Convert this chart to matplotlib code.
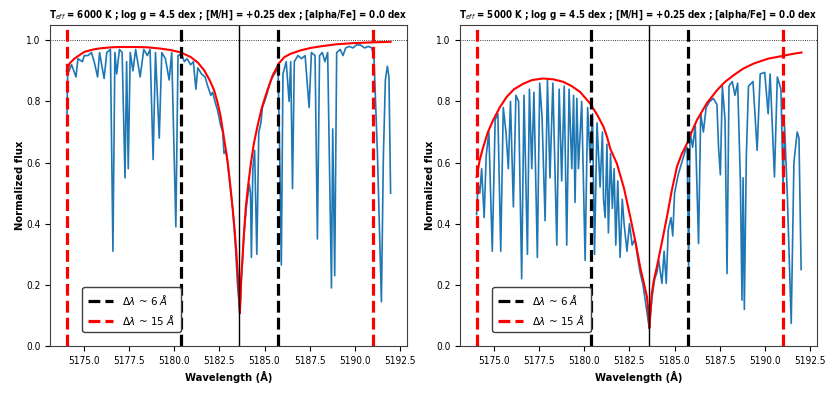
import matplotlib
matplotlib.use("Agg")
import matplotlib.pyplot as plt

# ---------------- data ----------------
titles = [r"T$_{eff}$ = 6000 K ; log g = 4.5 dex ; [M/H] = +0.25 dex ; [alpha/Fe] = 0.0 dex",
          r"T$_{eff}$ = 5000 K ; log g = 4.5 dex ; [M/H] = +0.25 dex ; [alpha/Fe] = 0.0 dex"]

# Teff = 6000 K spectrum (blue)
wl_6000 = [5174.03, 5174.08, 5174.30, 5174.54, 5174.65, 5174.90, 5175.00, 5175.20, 5175.40, 5175.55,
           5175.74, 5175.85, 5176.10, 5176.25, 5176.45, 5176.59, 5176.70, 5176.80, 5176.95, 5177.10,
           5177.26, 5177.35, 5177.44, 5177.55, 5177.70, 5177.85, 5178.10, 5178.30, 5178.50, 5178.65,
           5178.82, 5178.95, 5179.16, 5179.30, 5179.50, 5179.71, 5179.85, 5180.08, 5180.20, 5180.40,
           5180.55, 5180.70, 5180.90, 5181.05, 5181.19, 5181.30, 5181.50, 5181.70, 5181.85, 5182.02,
           5182.12, 5182.25, 5182.40, 5182.57, 5182.68, 5182.75, 5182.85, 5182.95, 5183.10, 5183.25,
           5183.40, 5183.50, 5183.63, 5183.72, 5183.85, 5184.00, 5184.15, 5184.22, 5184.27, 5184.35,
           5184.45, 5184.57, 5184.68, 5184.80, 5184.88, 5185.00, 5185.16, 5185.35, 5185.55, 5185.75,
           5185.85, 5185.93, 5186.02, 5186.20, 5186.36, 5186.45, 5186.55, 5186.65, 5186.85, 5187.05,
           5187.25, 5187.47, 5187.60, 5187.80, 5187.93, 5188.05, 5188.20, 5188.35, 5188.50, 5188.71,
           5188.78, 5188.89, 5189.00, 5189.20, 5189.35, 5189.50, 5189.70, 5189.90, 5190.10, 5190.30,
           5190.55, 5190.75, 5190.95, 5191.07, 5191.26, 5191.48, 5191.59, 5191.70, 5191.81, 5191.90,
           5191.99]
fx_6000 = [0.72, 0.89, 0.92, 0.88, 0.94, 0.93, 0.95, 0.95, 0.96, 0.93,
           0.88, 0.96, 0.875, 0.96, 0.97, 0.31, 0.96, 0.89, 0.97, 0.96,
           0.55, 0.93, 0.58, 0.96, 0.90, 0.97, 0.88, 0.97, 0.95, 0.97,
           0.61, 0.96, 0.68, 0.96, 0.94, 0.87, 0.96, 0.39, 0.95, 0.955,
           0.93, 0.94, 0.92, 0.93, 0.84, 0.91, 0.89, 0.88, 0.85, 0.82,
           0.83, 0.80, 0.77, 0.72, 0.70, 0.63, 0.64, 0.60, 0.52, 0.44,
           0.31, 0.20, 0.11, 0.22, 0.36, 0.46, 0.53, 0.50, 0.29, 0.58,
           0.64, 0.30, 0.70, 0.73, 0.78, 0.80, 0.83, 0.87, 0.89, 0.91,
           0.59, 0.265, 0.89, 0.93, 0.80, 0.93, 0.515, 0.93, 0.95, 0.94,
           0.95, 0.78, 0.96, 0.95, 0.35, 0.95, 0.96, 0.93, 0.96, 0.19,
           0.71, 0.23, 0.96, 0.97, 0.95, 0.975, 0.98, 0.975, 0.985, 0.985,
           0.975, 0.98, 0.975, 0.94, 0.63, 0.145, 0.62, 0.87, 0.915, 0.88,
           0.50]

# Teff = 6000 K continuum fit (red)
wl_fit_6000 = [5174.03, 5174.20, 5174.45, 5174.75, 5175.00, 5175.50, 5175.93, 5176.50, 5177.00, 5177.77,
               5178.50, 5179.20, 5179.80, 5180.36, 5180.91, 5181.30, 5181.65, 5181.95, 5182.20, 5182.40,
               5182.57, 5182.75, 5182.94, 5183.08, 5183.22, 5183.34, 5183.44, 5183.53, 5183.60, 5183.63,
               5183.66, 5183.70, 5183.77, 5183.86, 5183.96, 5184.10, 5184.24, 5184.40, 5184.60, 5184.85,
               5185.16, 5185.45, 5185.80, 5186.10, 5186.45, 5187.00, 5187.56, 5188.20, 5189.00, 5190.00,
               5190.88, 5191.99]
fit_6000 = [0.90, 0.925, 0.94, 0.952, 0.962, 0.970, 0.974, 0.977, 0.978, 0.978,
            0.977, 0.973, 0.968, 0.960, 0.945, 0.927, 0.902, 0.87, 0.837, 0.795,
            0.749, 0.68, 0.608, 0.535, 0.455, 0.38, 0.303, 0.22, 0.14, 0.107,
            0.15, 0.22, 0.281, 0.37, 0.455, 0.53, 0.597, 0.66, 0.717, 0.78,
            0.837, 0.885, 0.925, 0.945, 0.956, 0.967, 0.975, 0.981, 0.987, 0.991,
            0.993, 0.995]

# Teff = 5000 K spectrum (blue)
wl_5000 = [5174.02, 5174.10, 5174.20, 5174.30, 5174.44, 5174.55, 5174.70, 5174.89, 5175.05, 5175.20,
           5175.36, 5175.50, 5175.65, 5175.78, 5175.90, 5176.06, 5176.20, 5176.35, 5176.52, 5176.65,
           5176.84, 5176.95, 5177.08, 5177.20, 5177.39, 5177.52, 5177.65, 5177.82, 5177.95, 5178.09,
           5178.25, 5178.47, 5178.60, 5178.74, 5178.88, 5179.02, 5179.15, 5179.30, 5179.40, 5179.48,
           5179.58, 5179.67, 5179.85, 5180.04, 5180.18, 5180.32, 5180.45, 5180.56, 5180.70, 5180.87,
           5181.00, 5181.06, 5181.15, 5181.25, 5181.33, 5181.45, 5181.55, 5181.65, 5181.74, 5181.85,
           5181.98, 5182.10, 5182.20, 5182.36, 5182.50, 5182.65, 5182.80, 5182.95, 5183.09, 5183.25,
           5183.40, 5183.60, 5183.75, 5183.90, 5184.02, 5184.12, 5184.30, 5184.42, 5184.54, 5184.65,
           5184.80, 5184.90, 5185.00, 5185.20, 5185.40, 5185.60, 5185.70, 5185.78, 5185.86, 5186.00,
           5186.15, 5186.33, 5186.45, 5186.60, 5186.75, 5186.95, 5187.15, 5187.35, 5187.44, 5187.54,
           5187.65, 5187.80, 5187.91, 5188.02, 5188.20, 5188.35, 5188.50, 5188.65, 5188.74, 5188.80,
           5188.87, 5188.98, 5189.10, 5189.35, 5189.58, 5189.75, 5190.00, 5190.19, 5190.30, 5190.54,
           5190.70, 5190.90, 5191.02, 5191.10, 5191.25, 5191.47, 5191.62, 5191.80, 5191.90, 5192.02]
fx_5000 = [0.43, 0.53, 0.50, 0.58, 0.42, 0.62, 0.70, 0.31, 0.74, 0.76,
           0.31, 0.78, 0.70, 0.58, 0.80, 0.455, 0.82, 0.80, 0.22, 0.82,
           0.30, 0.84, 0.58, 0.83, 0.29, 0.86, 0.75, 0.41, 0.87, 0.55,
           0.86, 0.33, 0.84, 0.54, 0.85, 0.33, 0.84, 0.58, 0.82, 0.47,
           0.81, 0.58, 0.80, 0.28, 0.78, 0.60, 0.76, 0.30, 0.73, 0.52,
           0.70, 0.48, 0.42, 0.66, 0.37, 0.63, 0.45, 0.58, 0.33, 0.54,
           0.29, 0.48, 0.40, 0.31, 0.40, 0.33, 0.35, 0.29, 0.24, 0.20,
           0.14, 0.058, 0.16, 0.22, 0.24, 0.28, 0.205, 0.31, 0.205, 0.38,
           0.42, 0.36, 0.50, 0.56, 0.60, 0.64, 0.65, 0.25, 0.70, 0.65,
           0.72, 0.335, 0.76, 0.70, 0.78, 0.80, 0.81, 0.79, 0.65, 0.56,
           0.85, 0.74, 0.237, 0.85, 0.865, 0.82, 0.86, 0.54, 0.15, 0.55,
           0.12, 0.62, 0.85, 0.865, 0.64, 0.89, 0.895, 0.76, 0.89, 0.553,
           0.88, 0.84, 0.52, 0.72, 0.50, 0.074, 0.60, 0.70, 0.68, 0.25]

# Teff = 5000 K continuum fit (red)
wl_fit_5000 = [5174.02, 5174.20, 5174.39, 5174.65, 5174.94, 5175.30, 5175.69, 5176.10, 5176.61, 5177.10,
               5177.72, 5178.30, 5178.83, 5179.30, 5179.76, 5180.32, 5180.70, 5181.06, 5181.25, 5181.43,
               5181.80, 5182.20, 5182.54, 5182.85, 5183.09, 5183.30, 5183.47, 5183.55, 5183.60, 5183.66,
               5183.74, 5183.85, 5184.02, 5184.30, 5184.58, 5184.85, 5185.13, 5185.40, 5185.69, 5185.95,
               5186.24, 5186.80, 5187.36, 5187.80, 5188.28, 5188.80, 5189.39, 5190.20, 5191.00, 5191.50,
               5192.04]
fit_5000 = [0.553, 0.610, 0.651, 0.700, 0.739, 0.780, 0.815, 0.840, 0.858, 0.870,
            0.875, 0.872, 0.864, 0.850, 0.831, 0.793, 0.757, 0.717, 0.685, 0.646,
            0.597, 0.515, 0.423, 0.335, 0.259, 0.205, 0.161, 0.110, 0.058, 0.110,
            0.172, 0.215, 0.259, 0.340, 0.423, 0.510, 0.586, 0.628, 0.662, 0.700,
            0.739, 0.795, 0.837, 0.864, 0.886, 0.907, 0.924, 0.940, 0.949, 0.955,
            0.960]

line_center = 5183.6
window_6 = [5180.35, 5185.72]
window_15 = [5174.03, 5191.01]
legend_labels = [r"$\Delta\lambda$ ~ 6 $\AA$", r"$\Delta\lambda$ ~ 15 $\AA$"]

spectra = [(wl_6000, fx_6000, wl_fit_6000, fit_6000),
           (wl_5000, fx_5000, wl_fit_5000, fit_5000)]

# ---------------- plot ----------------
plt.rcParams['font.family'] = ['DejaVu Sans']
plt.rcParams['font.stretch'] = 'condensed'
fig = plt.figure(figsize=(8.31, 3.93), dpi=100)
lefts = [50 / 831, 460 / 831]
W = 357 / 831
B = 47 / 393
H = 321 / 393

for i, (wl, fx, wlf, fit) in enumerate(spectra):
    ax = fig.add_axes([lefts[i], B, W, H])
    ax.plot(wl, fx, color='#1f77b4', lw=1.2)
    ax.plot(wlf, fit, color='red', lw=1.5)
    ax.axhline(1.0, color='black', lw=0.6, ls=':')
    ax.axvline(line_center, color='black', lw=1.0)
    h6 = None
    for x in window_6:
        h6 = ax.axvline(x, color='black', lw=2.3, ls='--')
    h15 = None
    for x in window_15:
        h15 = ax.axvline(x, color='red', lw=2.3, ls='--')
    ax.set_ylim(0, 1.05)
    ax.set_xlim(5173.1, 5192.9)
    ax.set_xticks([5175.0, 5177.5, 5180.0, 5182.5, 5185.0, 5187.5, 5190.0, 5192.5])
    ax.set_xticklabels(['5175.0', '5177.5', '5180.0', '5182.5', '5185.0', '5187.5', '5190.0', '5192.5'])
    ax.set_yticks([0.0, 0.2, 0.4, 0.6, 0.8, 1.0])
    ax.tick_params(labelsize=7.2, length=3.5, width=0.8)
    ax.set_xlabel('Wavelength (Å)', fontsize=8, fontweight='bold', labelpad=4)
    ax.set_ylabel('Normalized flux', fontsize=8, fontweight='bold', labelpad=1)
    ax.set_title(titles[i], fontsize=7.0, fontweight='bold', pad=5)
    for sp in ax.spines.values():
        sp.set_color('0.25')
    leg = ax.legend([h6, h15], legend_labels, loc='lower left',
                    bbox_to_anchor=(0.075, 0.025), fontsize=8.2, framealpha=1,
                    edgecolor='0.25', handlelength=2.2, borderpad=0.5)
    leg.get_frame().set_linewidth(1.0)

fig.savefig('out.png', dpi=100)
